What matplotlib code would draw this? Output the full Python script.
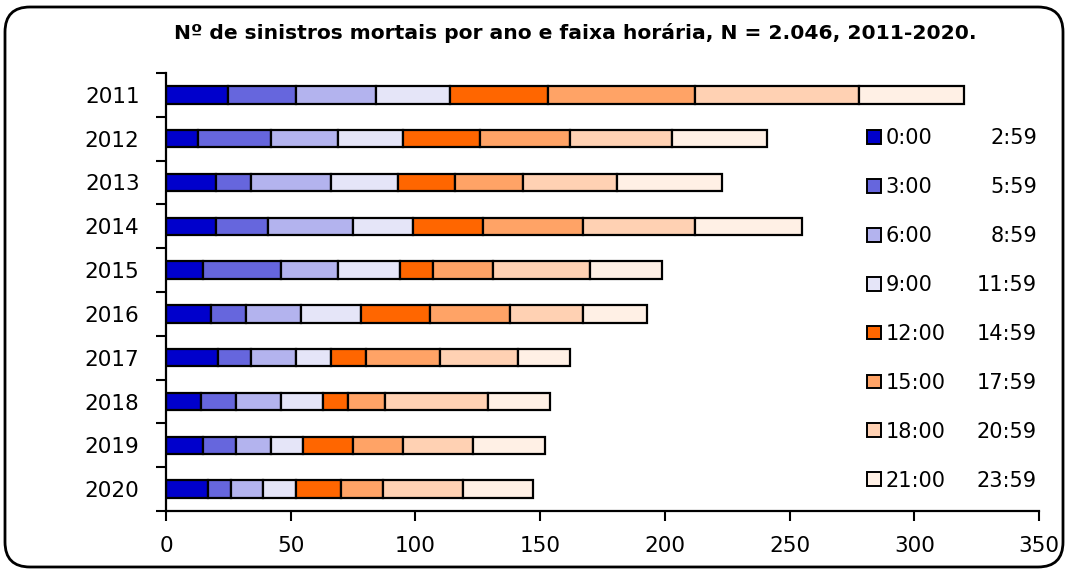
import matplotlib
matplotlib.use('Agg')
import matplotlib.pyplot as plt
import numpy as np
from matplotlib.patches import FancyBboxPatch

years = ['2011', '2012', '2013', '2014', '2015', '2016', '2017', '2018', '2019', '2020']
start_times = ['0:00', '3:00', '6:00', '9:00', '12:00', '15:00', '18:00', '21:00']
end_times = ['2:59', '5:59', '8:59', '11:59', '14:59', '17:59', '20:59', '23:59']

# deaths per year (rows) and 3-hour band (columns)
h00 = [25, 13, 20, 20, 15, 18, 21, 14, 15, 17]
h03 = [27, 29, 14, 21, 31, 14, 13, 14, 13, 9]
h06 = [32, 27, 32, 34, 23, 22, 18, 18, 14, 13]
h09 = [30, 26, 27, 24, 25, 24, 14, 17, 13, 13]
h12 = [39, 31, 23, 28, 13, 28, 14, 10, 20, 18]
h15 = [59, 36, 27, 40, 24, 32, 30, 15, 20, 17]
h18 = [66, 41, 38, 45, 39, 29, 31, 41, 28, 32]
h21 = [42, 38, 42, 43, 29, 26, 21, 25, 29, 28]

colors = ['#0000CC', '#6666DD', '#B3B3EE', '#E5E5F8',
          '#FF6600', '#FFA366', '#FFD1B3', '#FFF0E5']

series = [h00, h03, h06, h09, h12, h15, h18, h21]

fig = plt.figure(figsize=(10.68, 5.71), dpi=100)
ax = fig.add_axes([166 / 1068, 1 - 511 / 571, (1039 - 166) / 1068, (511 - 73) / 571])

y = np.arange(len(years))
left = np.zeros(len(years))
for vals, c, lab in zip(series, colors, start_times):
    ax.barh(y, vals, left=left, height=0.40, color=c, edgecolor='black',
            linewidth=1.6, label=lab)
    left += np.array(vals)

ax.set_xlim(0, 350)
ax.set_ylim(9.5, -0.5)
ax.set_xticks(np.arange(0, 351, 50))
ax.set_yticks(y)
ax.set_yticklabels(years)
ax.set_yticks(np.arange(-0.5, 10, 1), minor=True)
ax.tick_params(axis='y', which='major', length=0, pad=19, labelsize=15.5)
ax.tick_params(axis='y', which='minor', length=7, width=1.5, direction='out')
ax.tick_params(axis='x', length=7, width=1.5, direction='out', labelsize=15.5, pad=11)
for s in ['left', 'bottom']:
    ax.spines[s].set_linewidth(1.6)
for s in ['top', 'right']:
    ax.spines[s].set_visible(False)

fig.text(575 / 1068, 1 - 33 / 571, 'Nº de sinistros mortais por ano e faixa horária, N = 2.046, 2011-2020.',
         ha='center', va='center', fontsize=14.6, fontweight='bold')

leg = fig.legend(loc='upper left', bbox_to_anchor=(867 / 1068, 1 - 128 / 571),
                 frameon=False, fontsize=15, handlelength=0.65, handleheight=0.65,
                 handletextpad=0.25, labelspacing=1.39, borderpad=0, borderaxespad=0)
for h in leg.legend_handles:
    h.set_linewidth(1.4)

fig.canvas.draw()
inv = fig.transFigure.inverted()
for t, e in zip(leg.get_texts(), end_times):
    bb = t.get_window_extent()
    yc = inv.transform((0, (bb.y0 + bb.y1) / 2))[1]
    fig.text(1037 / 1068, yc, e, ha='right', va='center', fontsize=15)

frame = FancyBboxPatch((0.05, 0.04), 10.58, 5.60, boxstyle='round,pad=0,rounding_size=0.25',
                       transform=fig.dpi_scale_trans, fill=False, edgecolor='black',
                       linewidth=2, zorder=-1)
fig.patches.append(frame)

fig.savefig('out.png', dpi=100)
